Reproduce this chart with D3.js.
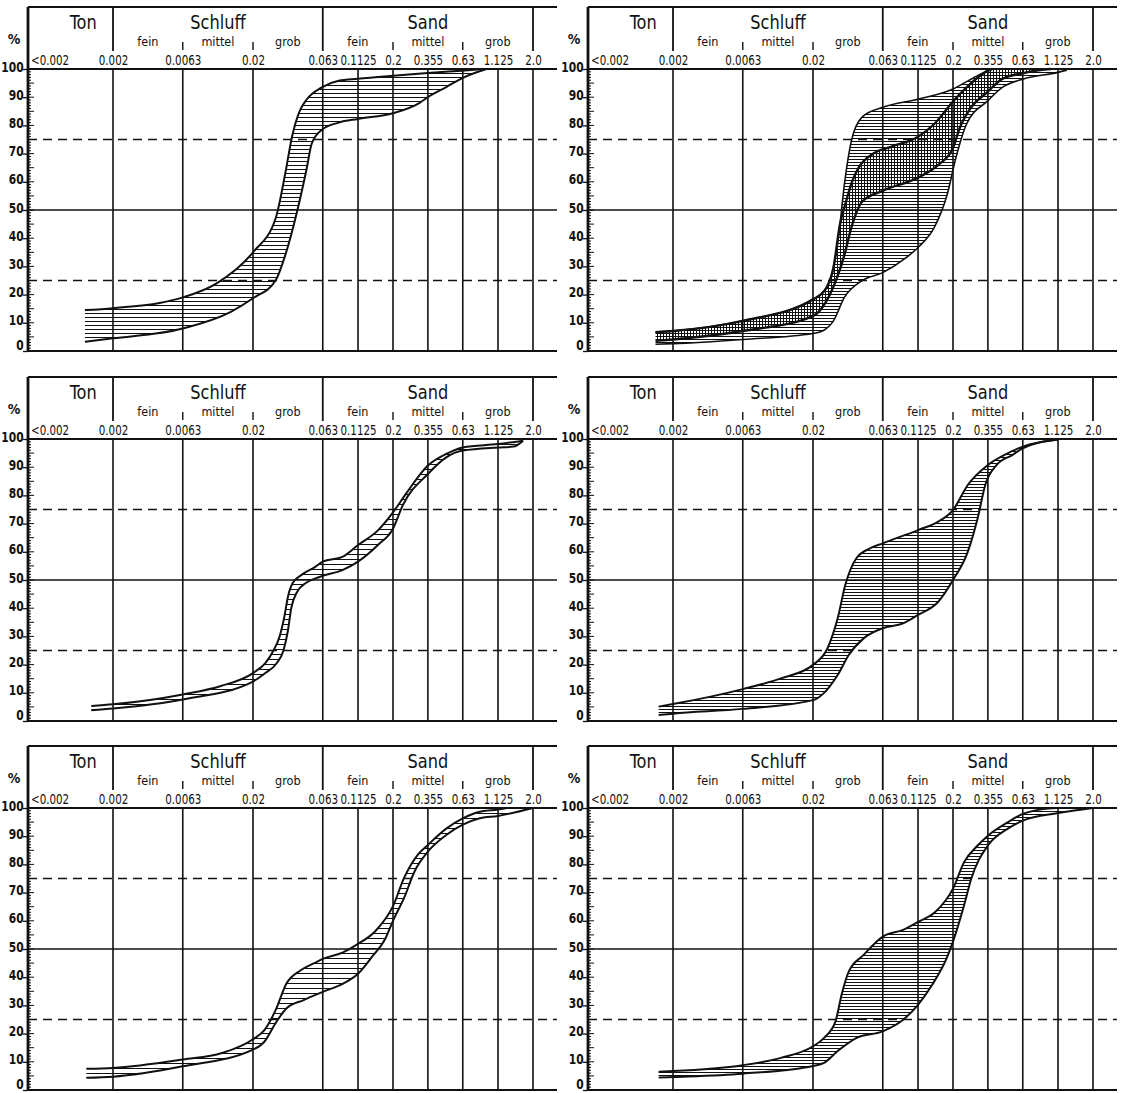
<!DOCTYPE html>
<html>
<head>
<meta charset="utf-8">
<script src="https://cdn.jsdelivr.net/npm/d3@7"></script>
<style>
  body { margin: 0; background: #fff; }
  text { font-family: "DejaVu Sans Condensed", "DejaVu Sans", sans-serif; fill: #111; }
</style>
</head>
<body>
<svg id="chart" width="1125" height="1093"></svg>
<script>
// sieve sizes (mm) and their labels
const sieveSizes = [0.002, 0.0063, 0.02, 0.063, 0.1125, 0.2, 0.355, 0.63, 1.125, 2.0];
const sieveLabels = ["0.002", "0.0063", "0.02", "0.063", "0.1125", "0.2", "0.355", "0.63", "1.125", "2.0"];
const belowLabel = "<0.002";
const fractionNames = ["Ton", "Schluff", "Sand"];
const fractionBounds = [[0.00075, 0.002], [0.002, 0.063], [0.063, 2.0]];
const subNames = ["fein", "mittel", "grob", "fein", "mittel", "grob"];
const subBounds = [[0.002, 0.0063], [0.0063, 0.02], [0.02, 0.063], [0.063, 0.2], [0.2, 0.63], [0.63, 2.0]];
const subMarks = [0.0063, 0.02, 0.2, 0.63];
const headMarks = [0.002, 0.063, 2.0];
const percentTicks = [0, 10, 20, 30, 40, 50, 60, 70, 80, 90, 100];
const dashedLevels = [25, 75];

// curves: [grain size mm, passing %]
const p1Upper = [[0.00126,14.5],[0.002,15.2],[0.0043,17],[0.0063,19],[0.011,24],[0.02,35],[0.029,47],[0.034,63],[0.038,76],[0.043,85],[0.048,89],[0.062,93.5],[0.082,95.8],[0.112,96.5],[0.2,97.6],[0.355,98.6],[0.62,99.4],[0.93,100]];
const p1Lower = [[0.00126,3.3],[0.002,4.5],[0.0063,8],[0.014,14],[0.02,18.7],[0.029,25],[0.034,34],[0.042,51],[0.0485,65],[0.0525,73.5],[0.062,78.4],[0.082,81],[0.112,82.3],[0.2,84.3],[0.31,88],[0.355,90],[0.48,93.6],[0.62,96.7],[0.93,100]];

const p2Upper = [[0.0015,6.7],[0.002,7.1],[0.0063,10.7],[0.02,18.3],[0.025,22.5],[0.028,29.6],[0.0306,41.4],[0.0335,59],[0.0376,74.5],[0.045,83],[0.063,86.4],[0.1125,89.3],[0.2,92.9],[0.283,97],[0.355,99.4],[0.38,100]];
const p2Lower = [[0.0015,2.4],[0.002,2.6],[0.0063,4.1],[0.02,6.2],[0.0234,7.1],[0.028,10.7],[0.0335,19],[0.045,25],[0.063,27.8],[0.092,33],[0.1125,36.7],[0.147,43.8],[0.182,55.6],[0.21,68.6],[0.25,80.5],[0.355,88.8],[0.45,93.5],[0.63,96.4],[1.125,98.8],[1.3,99.6]];
const p2CrossTop = [[0.0312,45],[0.034,52],[0.038,60],[0.0424,65],[0.054,70],[0.073,72.5],[0.1125,76],[0.147,80.5],[0.2,88.5],[0.25,93.5],[0.32,98],[0.355,99.4],[0.38,100]];
const p2CrossLower = [[0.0015,3.6],[0.002,4.1],[0.0063,7.1],[0.02,12.4],[0.025,17.8],[0.0297,26],[0.0335,34],[0.0376,43.8],[0.045,53],[0.063,56.8],[0.1125,61.5],[0.157,66],[0.2,72],[0.223,79],[0.266,86],[0.355,92],[0.45,96.5],[0.63,98.5],[0.84,99.6],[1.0,100]];
const p2CrossUpper = p2Upper.filter(p => p[0] < 0.0306).concat(p2CrossTop);

const p3Upper = [[0.0014,5.3],[0.002,5.9],[0.0063,9.4],[0.0118,12.4],[0.02,17],[0.0245,20.5],[0.028,25],[0.031,30],[0.0335,37],[0.0355,44],[0.0385,49],[0.045,52],[0.055,54.5],[0.063,56.5],[0.087,58.2],[0.1125,62.4],[0.156,67.6],[0.2,74],[0.251,81],[0.355,90.6],[0.48,94.7],[0.63,97],[1.125,98.2],[1.7,99.4]];
const p3Lower = [[0.0014,3.8],[0.002,4.4],[0.0063,7.6],[0.02,14],[0.0245,17],[0.0295,20.5],[0.033,25],[0.0355,32],[0.0375,40],[0.041,45.5],[0.048,49],[0.056,50.6],[0.063,51.5],[0.087,53.5],[0.1125,56.5],[0.156,62.4],[0.2,68.2],[0.235,76.5],[0.355,87.6],[0.48,93.5],[0.63,95.9],[1.125,97],[1.45,97.3],[1.7,99.4]];

const p4Upper = [[0.00158,5.1],[0.002,6],[0.0063,11.3],[0.0118,15.1],[0.02,19.9],[0.0254,25.8],[0.03,36.4],[0.034,48.2],[0.0408,57.7],[0.051,61.2],[0.063,63],[0.1125,67.7],[0.157,70.7],[0.2,74.8],[0.255,83.7],[0.355,90.8],[0.49,94.9],[0.63,97.3],[1.125,99.8]];
const p4Lower = [[0.00158,2.1],[0.002,2.6],[0.0063,4.3],[0.02,7.4],[0.0238,9.8],[0.03,16.3],[0.036,23.4],[0.046,29.3],[0.063,32.9],[0.088,34.6],[0.1125,37.6],[0.157,42.3],[0.2,50],[0.255,60],[0.3,71.9],[0.34,83.7],[0.41,90.8],[0.53,94.3],[0.63,96.7],[1.125,99.8]];

const p5Upper = [[0.00129,7.5],[0.002,7.8],[0.0063,10.8],[0.012,13.1],[0.02,18],[0.0242,21.3],[0.029,28.3],[0.0346,37.7],[0.0436,42.4],[0.0548,45],[0.063,46.5],[0.088,48.8],[0.1125,51.8],[0.15,56.4],[0.2,65.2],[0.24,75.2],[0.3,83.4],[0.355,86.9],[0.48,92.7],[0.63,96.3],[0.82,98.6],[1.125,99.5],[1.3,100]];
const p5Lower = [[0.00129,4.3],[0.002,4.7],[0.0063,8.4],[0.02,14.3],[0.0242,17.2],[0.029,23.7],[0.0346,28.9],[0.046,31.9],[0.063,34.8],[0.088,37.7],[0.1125,41.2],[0.141,47.1],[0.178,54.1],[0.2,60],[0.24,68.1],[0.285,77.5],[0.355,84.5],[0.48,90.4],[0.63,94.1],[0.82,96.3],[1.125,97.2],[2.0,100]];

const p6Upper = [[0.00158,6.5],[0.002,6.7],[0.0063,8.8],[0.0118,11.4],[0.02,15.5],[0.024,18.5],[0.029,24.4],[0.032,33.8],[0.036,42],[0.046,47.9],[0.063,54.4],[0.088,56.8],[0.1125,59.6],[0.15,63.2],[0.2,71.4],[0.24,80.8],[0.3,86.7],[0.355,90.2],[0.49,94.9],[0.63,97.9],[0.88,99.6],[1.1,100]];
const p6Lower = [[0.00158,4.4],[0.002,4.6],[0.0063,5.8],[0.02,8.5],[0.024,9.6],[0.03,13.8],[0.041,18.5],[0.063,20.8],[0.088,24.9],[0.1125,30.2],[0.142,37.3],[0.18,46.7],[0.2,52.6],[0.24,65.5],[0.27,74.9],[0.355,86.7],[0.49,92.6],[0.63,95.5],[1.125,98.2],[2.0,100]];

// layout
const W = 529, H = 282, HEAD = 62;
const panels = [
  { at: [28, 69],  gap: 4, bands: [{ up: p1Upper, lo: p1Lower, w: 2 }] },
  { at: [588, 69], gap: 3, bands: [{ up: p2Upper, lo: p2Lower, w: 1.6 }, { up: p2CrossUpper, lo: p2CrossLower, w: 2.4, cross: true }] },
  { at: [28, 439], gap: 5, bands: [{ up: p3Upper, lo: p3Lower, w: 2 }] },
  { at: [588, 439], gap: 3, bands: [{ up: p4Upper, lo: p4Lower, w: 2 }] },
  { at: [28, 808], gap: 5, bands: [{ up: p5Upper, lo: p5Lower, w: 2 }] },
  { at: [588, 808], gap: 3, bands: [{ up: p6Upper, lo: p6Lower, w: 2 }] }
];

const svg = d3.select("#chart");
const defs = svg.append("defs");
const ink = "#111";

const x = d3.scaleLog().domain([0.002, 2.0]).range([85, 505]);
const y = d3.scaleLinear().domain([0, 100]).range([H, 0]);
const line = d3.line().x(d => x(d[0])).y(d => y(d[1])).curve(d3.curveMonotoneX);
const bandPath = (up, lo) => line(up) + "L" + line(lo.slice().reverse()).slice(1) + "Z";

panels.forEach((p, i) => {
  // hatch patterns (1px lines on whole pixels)
  const ph = defs.append("pattern").attr("id", "hh" + i)
    .attr("patternUnits", "userSpaceOnUse").attr("width", 8).attr("height", p.gap);
  ph.append("line").attr("x1", 0).attr("x2", 8).attr("y1", 0.5).attr("y2", 0.5)
    .attr("stroke", ink).attr("stroke-width", 1);
  const pv = defs.append("pattern").attr("id", "hv" + i)
    .attr("patternUnits", "userSpaceOnUse").attr("width", p.gap).attr("height", 8);
  pv.append("line").attr("y1", 0).attr("y2", 8).attr("x1", 0.5).attr("x2", 0.5)
    .attr("stroke", ink).attr("stroke-width", 1);

  const g = svg.append("g").attr("transform", `translate(${p.at[0]},${p.at[1]})`);

  // hatched bands
  p.bands.forEach(b => {
    g.append("path").attr("d", bandPath(b.up, b.lo))
      .attr("fill", `url(#${b.cross ? "hv" : "hh"}${i})`).attr("stroke", "none");
  });

  // vertical grid
  g.selectAll(".vgrid").data(sieveSizes).join("line")
    .attr("x1", d => x(d)).attr("x2", d => x(d)).attr("y1", y(100)).attr("y2", y(0))
    .attr("stroke", ink).attr("stroke-width", 1.6);

  // horizontal reference lines
  g.selectAll(".hline").data([0, 100]).join("line")
    .attr("x1", 0).attr("x2", W).attr("y1", d => y(d)).attr("y2", d => y(d))
    .attr("stroke", ink).attr("stroke-width", 2);
  g.append("line").attr("x1", 0).attr("x2", W).attr("y1", y(50)).attr("y2", y(50))
    .attr("stroke", ink).attr("stroke-width", 1.3);
  g.selectAll(".dash").data(dashedLevels).join("line")
    .attr("x1", 0).attr("x2", W).attr("y1", d => y(d)).attr("y2", d => y(d))
    .attr("stroke", ink).attr("stroke-width", 1.3).attr("stroke-dasharray", "9,6");

  // header frame
  g.append("line").attr("x1", 0).attr("x2", W).attr("y1", -HEAD).attr("y2", -HEAD)
    .attr("stroke", ink).attr("stroke-width", 2);
  g.selectAll(".hmark").data(headMarks).join("line")
    .attr("x1", d => x(d)).attr("x2", d => x(d)).attr("y1", -HEAD).attr("y2", -18)
    .attr("stroke", ink).attr("stroke-width", 1.8);
  g.selectAll(".smark").data(subMarks).join("line")
    .attr("x1", d => x(d)).attr("x2", d => x(d)).attr("y1", -27).attr("y2", -19)
    .attr("stroke", ink).attr("stroke-width", 1.4);

  g.selectAll(".fname").data(fractionNames).join("text")
    .attr("transform", (d, k) => `translate(${(x(fractionBounds[k][0]) + x(fractionBounds[k][1])) / 2},-40) scale(0.9,1)`)
    .attr("text-anchor", "middle").attr("font-size", 20).text(d => d);
  g.selectAll(".sname").data(subNames).join("text")
    .attr("x", (d, k) => x(Math.sqrt(subBounds[k][0] * subBounds[k][1])))
    .attr("y", -23.5).attr("text-anchor", "middle").attr("font-size", 12.5)
    .text(d => d);

  // size labels
  const xa = g.append("g").call(d3.axisTop(x).tickValues(sieveSizes)
    .tickFormat((d, k) => sieveLabels[k]).tickSize(0).tickPadding(4));
  xa.select(".domain").remove();
  xa.selectAll("text").attr("font-size", 13.5).attr("font-family", null).attr("fill", ink)
    .attr("transform", "scale(0.85,1)");
  g.append("text").attr("transform", "translate(3,-4) scale(0.85,1)")
    .attr("font-size", 13.5).text(belowLabel);

  // percent axis
  const ya = g.append("g").call(d3.axisLeft(y).tickValues(percentTicks).tickSize(5).tickPadding(0));
  ya.select(".domain").remove();
  ya.selectAll("line").attr("stroke", ink).attr("stroke-width", 1.3);
  ya.selectAll("text").attr("font-size", 13.5).attr("font-weight", "bold")
    .attr("font-family", null).attr("fill", ink)
    .attr("dy", d => d === 0 ? "-0.1em" : "0.15em")
    .attr("transform", "scale(0.88,1)");
  g.selectAll(".minor").data(d3.range(1, 100)).join("line")
    .attr("x1", 0).attr("x2", d => d % 5 === 0 ? 6 : 3)
    .attr("y1", d => y(d)).attr("y2", d => y(d))
    .attr("stroke", ink).attr("stroke-width", 1);
  g.append("line").attr("x1", 0).attr("x2", 0).attr("y1", -HEAD).attr("y2", y(0))
    .attr("stroke", ink).attr("stroke-width", 2.8);
  g.append("text").attr("x", -14).attr("y", -25).attr("text-anchor", "middle")
    .attr("font-size", 14).attr("font-weight", "bold").text("%");

  // curve outlines
  p.bands.forEach(b => {
    [b.up, b.lo].forEach(c => {
      g.append("path").attr("d", line(c)).attr("fill", "none")
        .attr("stroke", ink).attr("stroke-width", b.w);
    });
  });
});
</script>
</body>
</html>
